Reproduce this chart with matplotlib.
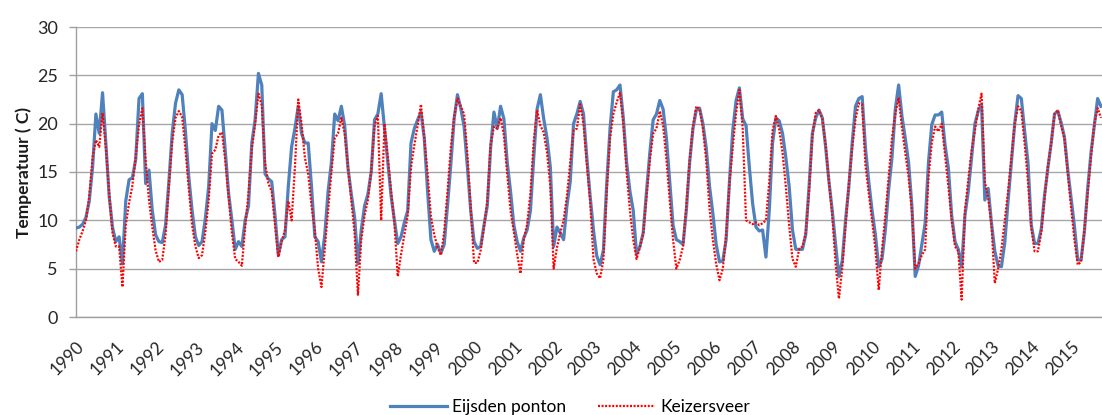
import numpy as np
import matplotlib
matplotlib.use('Agg')
import matplotlib.pyplot as plt
from matplotlib.transforms import ScaledTranslation

plt.rcParams['font.family'] = ['Lato', 'DejaVu Sans']

# tick labels: one per year, data is monthly from Jan 1990
years = list(range(1990, 2016))

# Eijsden ponton, monthly water temperature (C)
eijsden = [
    9.2, 9.3, 9.6, 10.3, 12.0, 15.5, 21.0, 19.0, 23.2, 18.0, 12.5, 9.3,   # 1990
    7.8, 8.3, 5.5, 12.0, 14.2, 14.4, 16.3, 22.6, 23.1, 13.8, 15.2, 11.0,  # 1991
    8.5, 7.8, 7.7, 9.5, 14.0, 19.0, 22.1, 23.5, 23.0, 19.2, 14.5, 11.0,   # 1992
    8.3, 7.4, 7.8, 10.2, 13.5, 20.0, 19.3, 21.8, 21.4, 17.2, 12.8, 10.0,  # 1993
    7.0, 7.8, 7.3, 10.0, 11.5, 18.0, 20.4, 25.2, 24.0, 14.8, 14.3, 14.0,  # 1994
    10.5, 6.4, 8.0, 8.3, 13.5, 17.6, 19.5, 21.8, 19.0, 18.0, 18.0, 13.5,  # 1995
    8.3, 7.8, 5.7, 8.5, 13.0, 16.0, 21.0, 20.3, 21.8, 19.8, 15.4, 12.7,   # 1996
    10.3, 5.5, 9.0, 11.5, 12.7, 15.0, 20.4, 21.0, 23.1, 19.5, 16.0, 12.5, # 1997
    10.0, 7.6, 8.3, 9.8, 11.0, 18.0, 19.5, 20.4, 21.2, 18.5, 13.0, 8.0,   # 1998
    6.8, 7.5, 6.6, 7.5, 11.5, 15.8, 20.5, 23.0, 21.6, 19.7, 15.5, 11.0,   # 1999
    7.8, 7.1, 7.3, 9.5, 11.5, 17.5, 21.2, 19.5, 21.8, 20.5, 16.0, 13.0,   # 2000
    9.5, 7.8, 6.8, 8.2, 9.0, 11.0, 16.5, 21.5, 23.0, 20.5, 18.5, 15.5,    # 2001
    7.3, 9.3, 8.7, 8.0, 11.5, 14.0, 20.0, 21.0, 22.3, 21.0, 16.5, 12.5,   # 2002
    9.0, 6.3, 5.4, 6.9, 13.8, 19.5, 23.3, 23.5, 24.0, 20.6, 16.0, 13.0,   # 2003
    11.0, 6.5, 7.3, 8.7, 13.0, 17.0, 20.4, 21.0, 22.4, 21.5, 18.5, 14.0,  # 2004
    9.5, 8.0, 7.8, 7.5, 11.0, 16.0, 19.5, 21.4, 21.6, 20.0, 17.5, 13.5,   # 2005
    10.7, 7.5, 5.7, 5.8, 8.0, 14.0, 19.3, 22.4, 23.7, 20.5, 19.8, 15.5,   # 2006
    11.7, 9.3, 8.9, 9.0, 6.2, 11.0, 18.0, 20.6, 20.3, 19.0, 16.5, 13.5,   # 2007
    9.0, 7.0, 7.0, 7.0, 8.5, 13.5, 19.0, 20.6, 21.4, 20.6, 17.6, 14.0,    # 2008
    11.0, 7.5, 4.2, 5.8, 10.0, 13.5, 18.0, 21.8, 22.6, 22.8, 17.5, 14.0,  # 2009
    11.0, 8.5, 5.2, 6.0, 9.0, 13.2, 16.5, 21.5, 24.0, 20.8, 18.5, 16.0,   # 2010
    11.5, 4.2, 5.3, 7.5, 9.7, 16.0, 19.9, 20.9, 20.9, 21.2, 17.8, 15.4,   # 2011
    10.5, 7.8, 7.0, 5.2, 10.5, 13.0, 16.5, 20.0, 21.3, 22.0, 12.1, 13.3,  # 2012
    9.7, 6.8, 5.3, 5.2, 7.7, 12.0, 16.0, 20.0, 22.9, 22.6, 19.2, 16.0,    # 2013
    9.5, 7.6, 7.6, 9.1, 12.6, 15.4, 18.0, 21.0, 21.3, 20.1, 18.6, 15.2,   # 2014
    12.3, 9.4, 5.9, 5.9, 8.8, 13.3, 17.0, 19.8, 22.6, 21.8,               # 2015
]

# Keizersveer, monthly water temperature (C)
keizersveer = [
    6.8, 8.0, 8.9, 10.0, 12.5, 16.5, 18.3, 17.6, 21.1, 17.6, 12.8, 8.7,   # 1990
    7.3, 7.3, 3.1, 9.5, 11.8, 13.6, 16.6, 19.9, 21.6, 16.2, 12.1, 9.3,    # 1991
    6.9, 5.7, 5.9, 8.5, 13.5, 18.1, 20.6, 21.3, 20.7, 17.3, 13.3, 9.5,    # 1992
    7.3, 6.1, 6.4, 8.8, 12.1, 16.9, 17.3, 18.8, 19.1, 16.2, 12.4, 8.7,    # 1993
    6.0, 5.7, 5.3, 9.3, 12.8, 17.4, 20.0, 23.1, 21.9, 15.9, 13.8, 13.0,   # 1994
    9.5, 6.2, 7.8, 9.0, 12.0, 10.0, 15.5, 22.5, 20.0, 16.5, 14.8, 11.5,   # 1995
    9.0, 5.0, 3.1, 7.0, 11.0, 15.0, 18.5, 19.0, 20.6, 19.0, 15.5, 12.0,   # 1996
    8.6, 2.3, 8.0, 10.5, 12.1, 15.1, 19.8, 20.8, 10.0, 20.0, 16.5, 13.0,  # 1997
    9.7, 4.2, 6.5, 8.5, 10.5, 15.5, 17.8, 19.8, 22.0, 18.5, 14.8, 10.4,   # 1998
    8.5, 7.2, 6.4, 8.8, 13.0, 17.5, 20.7, 22.6, 21.8, 21.0, 16.8, 11.3,   # 1999
    5.6, 5.6, 6.9, 9.3, 12.0, 17.8, 19.7, 19.5, 20.6, 18.8, 14.8, 11.0,   # 2000
    8.8, 6.5, 4.5, 8.0, 9.6, 12.8, 18.2, 21.4, 19.8, 19.1, 17.0, 13.5,    # 2001
    5.0, 7.2, 8.7, 10.0, 12.5, 16.0, 19.3, 19.5, 22.0, 20.0, 15.8, 12.0,  # 2002
    6.0, 4.5, 4.0, 5.9, 13.0, 18.5, 21.0, 22.2, 23.2, 20.0, 15.0, 11.0,   # 2003
    8.0, 6.0, 7.2, 8.6, 12.5, 16.2, 19.0, 19.5, 21.3, 19.8, 16.3, 12.0,   # 2004
    8.0, 5.0, 5.9, 7.3, 11.5, 16.2, 19.7, 21.8, 21.5, 19.5, 16.2, 11.2,   # 2005
    8.0, 5.5, 3.8, 5.0, 8.5, 13.8, 17.6, 21.1, 23.5, 19.5, 10.0, 9.8,     # 2006
    9.6, 9.8, 9.5, 9.7, 10.0, 14.0, 19.3, 20.8, 19.4, 17.0, 13.5, 9.5,    # 2007
    6.0, 5.2, 7.0, 7.3, 8.7, 13.0, 18.7, 21.1, 21.4, 20.5, 17.8, 14.0,    # 2008
    10.5, 5.5, 1.9, 5.0, 9.5, 13.8, 17.5, 20.5, 22.1, 22.0, 15.7, 12.8,   # 2009
    10.0, 7.0, 2.8, 7.0, 10.5, 14.5, 18.5, 21.0, 22.7, 19.6, 17.0, 14.5,  # 2010
    11.0, 5.0, 5.5, 6.4, 7.0, 14.5, 18.0, 19.7, 19.2, 20.0, 16.8, 13.5,   # 2011
    10.0, 7.3, 6.8, 1.8, 11.0, 14.2, 17.2, 19.3, 21.5, 23.1, 14.0, 12.3,  # 2012
    9.5, 3.5, 5.0, 7.0, 10.0, 13.0, 16.5, 20.0, 21.8, 21.3, 17.9, 14.0,   # 2013
    9.2, 6.8, 6.8, 8.7, 12.3, 15.6, 18.0, 21.0, 21.4, 19.8, 18.4, 14.8,   # 2014
    11.3, 8.0, 5.4, 5.7, 9.0, 12.8, 16.6, 20.0, 21.6, 20.6,               # 2015
]

W, H = 1102, 415
fig = plt.figure(figsize=(W / 100, H / 100), dpi=100)
ax = fig.add_axes([76 / W, (H - 317) / H, (W - 76) / W, 290 / H])

months = np.arange(len(eijsden))
ax.plot(months, eijsden, color='#4f81bd', lw=2.3, label='Eijsden ponton',
        solid_joinstyle='round', zorder=3)
ax.plot(months, keizersveer, color='#ff0000', lw=1.6,
        linestyle=(0, (0.9, 0.7)), label='Keizersveer', zorder=4)

ax.set_xlim(0, (W - 76) / 3.317)
ax.set_ylim(0, 30)
ax.set_yticks(range(0, 31, 5))
ax.set_xticks(np.arange(len(years)) * 12)
ax.set_xticklabels([str(y) for y in years], rotation=45, ha='right',
                   va='center', rotation_mode='anchor', fontsize=12.5,
                   color='#262626')
ax.tick_params(axis='x', length=0, pad=14)
ax.tick_params(axis='y', length=5, width=1, color='#a0a0a0', pad=8,
               labelsize=13, labelcolor='#262626')

# nudge the slanted year labels right and down, like the original
shift = ScaledTranslation(6 / 100, -8 / 100, fig.dpi_scale_trans)
for lbl in ax.get_xticklabels():
    lbl.set_transform(lbl.get_transform() + shift)

ax.grid(axis='y', color='#a6a6a6', lw=1)
ax.set_axisbelow(True)
for side in ['top', 'right']:
    ax.spines[side].set_visible(False)
for side in ['left', 'bottom']:
    ax.spines[side].set_color('#a0a0a0')
    ax.spines[side].set_linewidth(1)

ax.set_ylabel('Temperatuur ( C)', fontsize=12.5, fontweight='bold',
              color='#1a1a1a', labelpad=4)

fig.legend(loc='center', bbox_to_anchor=(0.517, 0.02), ncol=2,
           frameon=False, fontsize=12.5, handlelength=3.3,
           handletextpad=0.3, columnspacing=1.8)

fig.savefig('out.png', dpi=100)
